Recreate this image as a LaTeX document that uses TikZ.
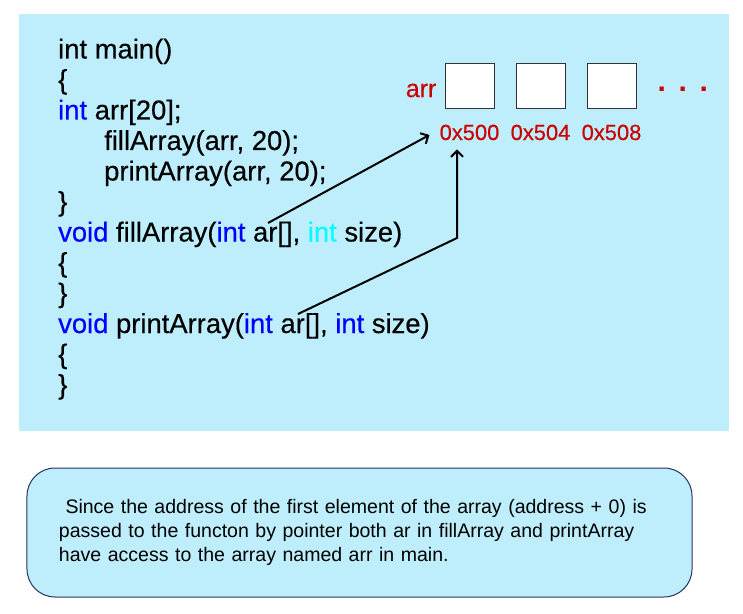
\documentclass[tikz,border=0pt]{standalone}
\usepackage{fontspec}
\setmainfont{Liberation Sans}
\newfontfamily\codefont[FakeBold=0.35]{Liberation Sans}
\usetikzlibrary{positioning,arrows.meta}

\definecolor{panelblue}{RGB}{190,238,252}
\definecolor{kwblue}{RGB}{0,0,255}
\definecolor{kwcyan}{RGB}{0,255,255}
\definecolor{addrred}{RGB}{204,0,0}
\definecolor{noteedge}{RGB}{40,50,100}
\newcommand{\kwd}[1]{\textcolor{kwblue}{#1}}

\begin{document}
\begin{tikzpicture}[x=1bp,y=-1bp]
  \tikzset{code/.style={anchor=base west,inner sep=0pt,font=\codefont\fontsize{27.5}{30}\selectfont},
    cell/.style={draw=black!80,fill=white,line width=1bp,minimum width=49bp,minimum height=45bp,inner sep=0pt},
    addr/.style={inner sep=0pt,text=addrred,font=\codefont\fontsize{22}{24}\selectfont},
    ptr/.style={line width=2bp,-{Straight Barb[length=6bp,width=12bp]}}}%
  \useasboundingbox (0,0) rectangle (743,614);
  \fill[panelblue] (19,14) rectangle (729,431);
  % code lines
  \node[code] (lmain) at (58,58.5) {int main()};
  \node[code] (lopen1) at (58,89) {\{};
  \node[code] (ldecl) at (58,119.5) {\kwd{int} arr[20];};
  \node[code] (lfill) at (104,150) {fillArray(arr, 20);};
  \node[code] (lprint) at (104,180.5) {printArray(arr, 20);};
  \node[code] (lclose1) at (58,211) {\}};
  \node[code] (lfilldef) at (58,241.5) {\kwd{void} fillArray(\kwd{int} ar[], \textcolor{kwcyan}{int} size)};
  \node[code] (lopen2) at (58,272) {\{};
  \node[code] (lclose2) at (58,302.5) {\}};
  \node[code] (lprintdef) at (58,333) {\kwd{void} printArray(\kwd{int} ar[], \kwd{int} size)};
  \node[code] (lopen3) at (58,363.5) {\{};
  \node[code] (lclose3) at (58,394) {\}};
  % the array in memory
  \node[cell] (c0) at (469.5,86.5) {};
  \node[cell] (c1) [right=21bp of c0] {};
  \node[cell] (c2) [right=21bp of c1] {};
  \node (arrname) [left=8bp of c0,yshift=-4bp,inner sep=0pt,text=addrred,font=\codefont\fontsize{25}{28}\selectfont] {arr};
  \node (dots) [right=21bp of c2,yshift=-2.5bp,inner sep=0pt,text=addrred,font=\fontsize{30}{30}\selectfont\bfseries] {.\hspace{12.7bp}.\hspace{12.7bp}.};
  \node[addr] (a0) [below=15bp of c0] {0x500};
  \node[addr] (a1) [below=15bp of c1] {0x504};
  \node[addr] (a2) [below=15bp of c2] {0x508};
  % pointers
  \coordinate (fillar) at (268,223);
  \coordinate (printar) at (298,314);
  \coordinate (bend) at (457,238);
  \coordinate (tip) at ([yshift=-9bp]a0.south);
  \draw[ptr] (fillar) -- ([xshift=-10bp,yshift=-2.5bp]a0.west);
  \draw[ptr] (printar) -- (bend) -- (bend |- tip);
  % note
  \node (note) at (359.5,532.5) [draw=noteedge,line width=1bp,fill=panelblue,rounded corners=28bp,
    minimum width=665bp,minimum height=129bp,text width=601bp,inner xsep=32bp,align=left,
    font=\fontsize{19.6}{24.5}\selectfont]
    {\ Since the address of the first element of the array (address + 0) is\\
     passed to the functon by pointer both ar in fillArray and printArray\\
     have access to the array named arr in main.};
\end{tikzpicture}
\end{document}
